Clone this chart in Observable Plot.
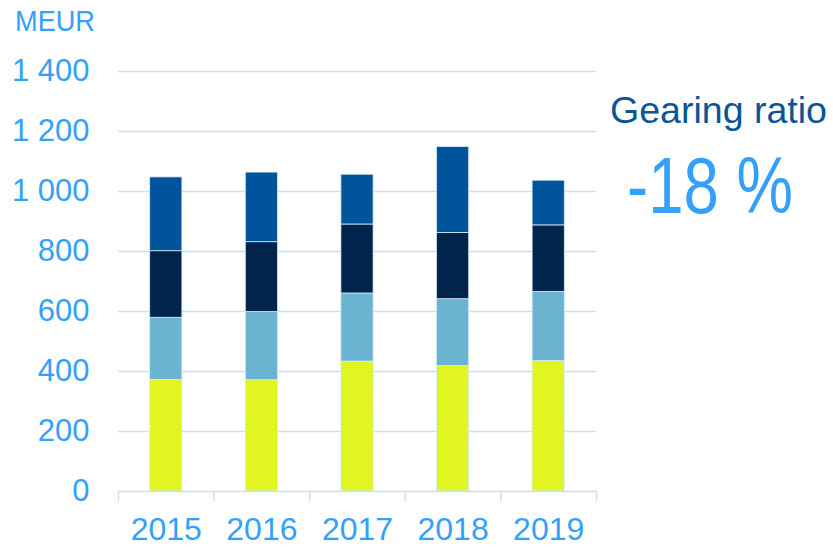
<!DOCTYPE html>
<html>
<head>
<meta charset="utf-8">
<script src="https://cdn.jsdelivr.net/npm/d3@7"></script>
<script src="https://cdn.jsdelivr.net/npm/@observablehq/plot@0.6"></script>
<style>
  html, body { margin: 0; padding: 0; background: #fff; }
  #wrap { position: relative; width: 833px; height: 548px; overflow: hidden; }
  #wrap svg { position: absolute; left: 0; top: 0; }
</style>
</head>
<body>
<div id="wrap"></div>
<script>
const years = [2015, 2016, 2017, 2018, 2019];
const seriesNames = ["s1", "s2", "s3", "s4"];
const s1 = [372, 371, 433, 418, 435];   // yellow (bottom)
const s2 = [207, 227, 227, 223, 230];   // light blue
const s3 = [222, 233, 230, 221, 222];   // navy
const s4 = [246, 232, 166, 286, 149];   // blue (top)
const yTicks = [0, 200, 400, 600, 800, 1000, 1200, 1400];
const unitLabel = "MEUR";
const sideTitle = "Gearing ratio";
const sideValue = "-18 %";
const colors = ["#e1f520", "#6ab3d1", "#00244c", "#00549c"];

const allSeries = [s1, s2, s3, s4];
const data = [];
years.forEach((yr, i) => {
  allSeries.forEach((s, k) => data.push({year: yr, series: seriesNames[k], value: s[i]}));
});

const fmt = v => d3.format(",")(v).replace(/,/g, " ");
const textBlue = "#33a1f9";
const gridColor = "#c4e2fb";
const font = "'Liberation Sans', Arial, sans-serif";

const plot = Plot.plot({
  width: 833,
  height: 548,
  marginLeft: 118,
  marginRight: 237,
  marginTop: 71,
  marginBottom: 57,
  style: {fontFamily: font, background: "transparent"},
  x: {domain: [years[0] - 0.5, years[years.length - 1] + 0.5]},
  y: {domain: [0, 1400]},
  color: {domain: seriesNames, range: colors},
  marks: [
    Plot.ruleY(yTicks.filter(d => d > 0), {stroke: gridColor, strokeWidth: 1.5}),
    Plot.rectY(data, {
      x1: d => d.year - 0.5,
      x2: d => d.year + 0.5,
      y: "value",
      fill: "series",
      insetLeft: 31.7,
      insetRight: 31.7,
      stroke: "#d8ecf8",
      strokeWidth: 0.8,
      order: seriesNames
    }),
    Plot.ruleY([0], {stroke: gridColor, strokeWidth: 1.5}),
    Plot.axisY({ticks: yTicks, tickSize: 0, tickPadding: 29, tickFormat: fmt,
      fontSize: 31, fill: textBlue, label: null}),
    Plot.axisX({ticks: [2014.5, 2015.5, 2016.5, 2017.5, 2018.5, 2019.5], tickSize: 10,
      stroke: gridColor, strokeWidth: 1.5, strokeOpacity: 1, tickFormat: () => "", label: null}),
    Plot.axisX({ticks: years, tickSize: 0, tickPadding: 26, tickFormat: d => String(d),
      fontSize: 32, fill: textBlue, label: null})
  ]
});
document.getElementById("wrap").appendChild(plot);

// side annotations
const ov = d3.select("#wrap").append("svg").attr("width", 833).attr("height", 548)
  .style("font-family", font);
ov.append("text").attr("x", 15).attr("y", 31).attr("font-size", 29)
  .attr("textLength", 80).attr("lengthAdjust", "spacingAndGlyphs")
  .attr("fill", textBlue).text(unitLabel);
ov.append("text").attr("x", 610).attr("y", 123).attr("font-size", 37)
  .attr("textLength", 217).attr("lengthAdjust", "spacingAndGlyphs")
  .attr("fill", "#0b5597").text(sideTitle);
ov.append("text").attr("x", 627).attr("y", 213).attr("font-size", 79)
  .attr("textLength", 166).attr("lengthAdjust", "spacingAndGlyphs")
  .attr("fill", textBlue).text(sideValue);
</script>
</body>
</html>
